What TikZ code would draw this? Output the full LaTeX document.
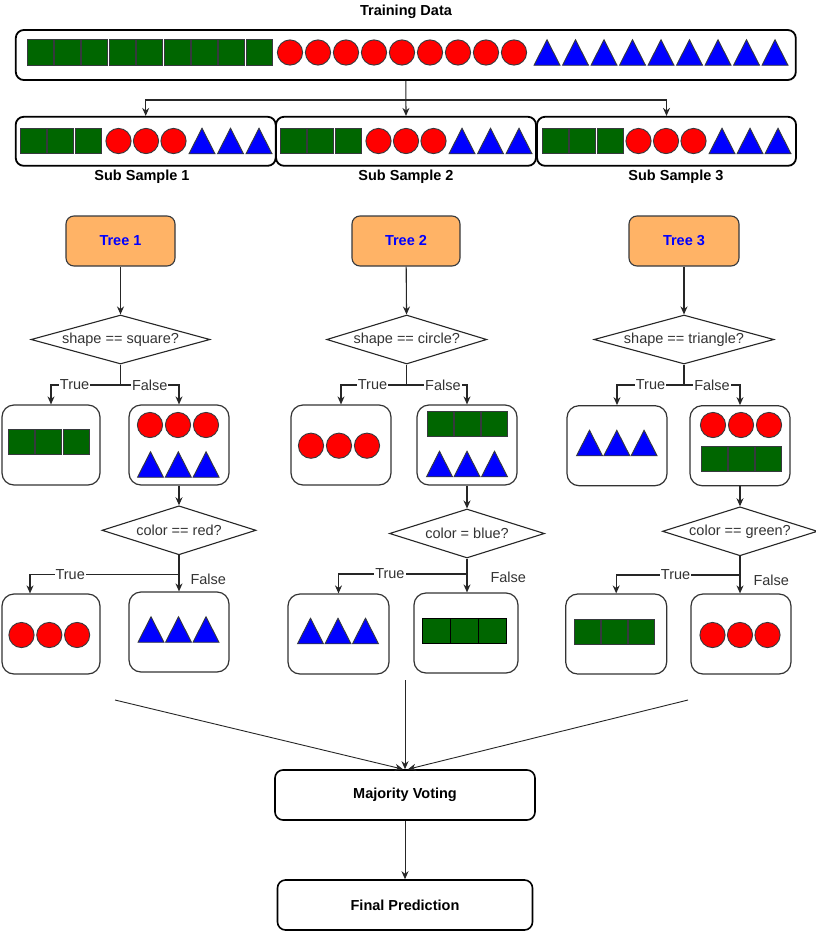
\documentclass[tikz,border=0pt]{standalone}
\usepackage{fontspec}
\setmainfont{Liberation Sans}
\usetikzlibrary{shapes.geometric,arrows.meta,calc}
\definecolor{sqgreen}{HTML}{006600}
\definecolor{stk}{HTML}{36393D}
\definecolor{treefill}{HTML}{FFB366}
\definecolor{txt}{HTML}{333333}
\definecolor{tblue}{HTML}{0000FF}
\newcommand\shaperow[5]{\foreach \i in {1,...,#5} \pic at ({#2+(\i-1)*#3},#4) {#1};}
\tikzset{
  fnt/.style={font=\fontsize{14.5}{17}\selectfont},
  bold/.style={font=\fontsize{14.5}{17}\selectfont\bfseries},
  bigbox/.style={draw=black, rounded corners=8pt, line width=1.8pt, inner sep=0pt},
  leaf/.style={draw=black!80, rounded corners=12pt, line width=1.2pt, inner sep=0pt, minimum height=80pt},
  treebox/.style={draw=stk, fill=treefill, rounded corners=8pt, line width=1.1pt, bold, text=tblue, minimum height=50pt, inner sep=0pt},
  dec/.style={diamond, draw=black!85, line width=1.1pt, inner sep=0pt, minimum height=49pt},
  dectxt/.style={fnt, text=txt},
  finbox/.style={draw=black, rounded corners=8pt, line width=1.6pt, bold, minimum height=50pt, inner sep=0pt},
  arr/.style={draw=black!85, line width=1.1pt, -{Stealth[length=8pt,width=7pt]}},
  thinarr/.style={draw=black!85, line width=0.9pt, -{Stealth[length=8pt,width=7pt]}},
  plain/.style={draw=black!85, line width=1.1pt},
  lbl/.style={fnt, text=txt, fill=white, inner sep=1pt},
  sidelbl/.style={fnt, text=txt, inner sep=0pt, anchor=west},
  sqshape/.style={fill=sqgreen, draw=stk, line width=0.9pt},
  cishape/.style={fill=red, draw=stk, line width=0.9pt},
  trshape/.style={fill=tblue, draw=stk, line width=0.9pt},
  gsq/.pic={\draw[sqshape] (-13,-12.75) rectangle (13,12.75);},
  gsqw/.pic={\draw[sqshape, draw=black] (-14,-12.5) rectangle (14,12.5);},
  rci/.pic={\draw[cishape] (0,0) circle[radius=12.6pt];},
  btr/.pic={\draw[trshape] (-13,12.75) -- (0,-12.75) -- (13,12.75) -- cycle;},
}
\begin{document}
\begin{tikzpicture}[x=1pt,y=-1pt]
\useasboundingbox (0,0) rectangle (816,932);
\fill[white] (0,0) rectangle (816,932);

% Training data
\node[bold] (title) at (406,11.5) {Training Data};
\node[bigbox, minimum width=780pt, minimum height=50pt] (train) at (405.8,55) {};
\shaperow{gsq}{40}{27.4}{52.5}{9}
\shaperow{rci}{290}{28}{52.5}{9}
\shaperow{btr}{547}{28.5}{52.5}{9}

% Sub samples
\node[bigbox, minimum width=260pt, minimum height=49pt] (s1) at (145.7,141.3) {};
\node[bigbox, minimum width=260pt, minimum height=49pt] (s2) at (406,141.3) {};
\node[bigbox, minimum width=259pt, minimum height=49pt] (s3) at (666.5,141.3) {};
\shaperow{gsq}{33}{27.5}{141}{3}
\shaperow{rci}{118.5}{27.5}{141}{3}
\shaperow{btr}{202}{28.5}{141}{3}
\shaperow{gsq}{293}{27.5}{141}{3}
\shaperow{rci}{378.5}{27.5}{141}{3}
\shaperow{btr}{462}{28.5}{141}{3}
\shaperow{gsq}{555}{27.5}{141}{3}
\shaperow{rci}{638.5}{27.5}{141}{3}
\shaperow{btr}{722}{28}{141}{3}
\node[bold] (s1l) at (142,177) {Sub Sample 1};
\node[bold] (s2l) at (406,177) {Sub Sample 2};
\node[bold] (s3l) at (676,177) {Sub Sample 3};

\coordinate (split) at (406,100);
\draw[arr] (train.south) -- (s2.north);
\draw[arr] (split) -| (s1.north);
\draw[arr] (split) -| (s3.north);

% Trees
\node[treebox, minimum width=109pt] (tr1) at (120.5,241) {Tree 1};
\node[treebox, minimum width=108pt] (tr2) at (406,241) {Tree 2};
\node[treebox, minimum width=110pt] (tr3) at (684,241) {Tree 3};

% First decisions
\node[dec, minimum width=179pt, label={[dectxt]center:shape == square?}] (d1) at (120.5,339.5) {};
\node[dec, minimum width=160pt, label={[dectxt]center:shape == circle?}] (d2) at (406.7,339.5) {};
\node[dec, minimum width=180pt, label={[dectxt]center:shape == triangle?}] (d3) at (684,339.5) {};
\draw[arr] (tr1) -- (d1);
\draw[arr] (tr2) -- (d2);
\draw[arr] (tr3) -- (d3);

% Level 1 boxes
\node[leaf, minimum width=98pt] (a1) at (51,445) {};
\node[leaf, minimum width=100pt] (b1) at (179,445) {};
\node[leaf, minimum width=100pt] (a2) at (341,445) {};
\node[leaf, minimum width=100pt] (b2) at (467,445) {};
\node[leaf, minimum width=100pt] (a3) at (617,445.7) {};
\node[leaf, minimum width=100pt] (b3) at (740,445.7) {};

\shaperow{gsq}{21.5}{27.3}{442}{3}
\shaperow{rci}{150}{28}{425}{3}
\shaperow{btr}{150.5}{27.8}{464.5}{3}
\shaperow{rci}{311}{28}{445.7}{3}
\shaperow{gsq}{440}{27.2}{424}{3}
\shaperow{btr}{439.5}{27.5}{464}{3}
\shaperow{btr}{589.5}{27.3}{443}{3}
\shaperow{rci}{713}{28}{425}{3}
\shaperow{gsq}{714.5}{27}{458.7}{3}

\coordinate (j1) at (120.5,385);
\coordinate (j2) at (406.7,385);
\coordinate (j3) at (684,385);
\draw[plain] (d1.south) -- (j1);
\draw[plain] (d2.south) -- (j2);
\draw[plain] (d3.south) -- (j3);
\draw[arr] (j1) -| node[lbl, pos=0.33] {True} (a1.north);
\draw[arr] (j1) -| node[lbl, pos=0.25] {False} (b1.north);
\draw[arr] (j2) -| node[lbl, pos=0.26] {True} (a2.north);
\draw[arr] (j2) -| node[lbl, pos=0.3] {False} (b2.north);
\draw[arr] (j3) -| node[lbl, pos=0.25] {True} (a3.north);
\draw[arr] (j3) -| node[lbl, pos=0.25] {False} (b3.north);

% Second decisions
\node[dec, minimum width=154pt, label={[dectxt]center:color == red?}] (e1) at (179,530.3) {};
\node[dec, minimum width=155pt, label={[dectxt]center:color = blue?}] (e2) at (467,533.5) {};
\node[dec, minimum width=155pt, label={[dectxt]center:color == green?}] (e3) at (740,531.3) {};
\draw[arr] (b1) -- (e1);
\draw[arr] (b2) -- (e2);
\draw[arr] (b3) -- (e3);

% Level 2 boxes
\node[leaf, minimum width=98pt] (c1) at (51,634) {};
\node[leaf, minimum width=100pt] (f1) at (179,632) {};
\node[leaf, minimum width=101pt] (c2) at (338.5,634) {};
\node[leaf, minimum width=104pt] (f2) at (466,633) {};
\node[leaf, minimum width=101pt] (c3) at (616.2,634) {};
\node[leaf, minimum width=100pt] (f3) at (741,634) {};

\shaperow{rci}{21.5}{27.8}{635}{3}
\shaperow{btr}{151}{27.5}{629.5}{3}
\shaperow{btr}{310.5}{27.5}{631}{3}
\shaperow{gsqw}{436}{28}{630.5}{3}
\shaperow{gsq}{587.5}{26.8}{632}{3}
\shaperow{rci}{712.5}{27.5}{635}{3}

\coordinate (k1) at (179,574.3);
\coordinate (k2) at (467,574);
\coordinate (k3) at (740,575);
\draw[plain] (e1.south) -- (k1);
\draw[plain] (e2.south) -- (k2);
\draw[plain] (e3.south) -- (k3);
\draw[arr] (k1) -| node[lbl, pos=0.365] {True} ([xshift=-21pt]c1.north);
\draw[arr] (k1) -- node[sidelbl, pos=0.3, xshift=11pt] {False} (k1 |- f1.north);
\draw[arr] (k2) -| node[lbl, pos=0.3] {True} (c2.north);
\draw[arr] (k2) -- node[sidelbl, pos=0.2, xshift=23pt] {False} (k2 |- f2.north);
\draw[arr] (k3) -| node[lbl, pos=0.26] {True} (c3.north);
\draw[arr] (k3) -- node[sidelbl, pos=0.3, xshift=13pt] {False} (k3 |- f3.north);

% Voting
\node[finbox, minimum width=260pt] (mv) at (405,795) {Majority Voting};
\node[finbox, minimum width=255pt] (fp) at (405,905) {Final Prediction};
\coordinate (p1) at (115,700);
\coordinate (p2) at (405,680);
\coordinate (p3) at (688,700);
\draw[thinarr] (p1) -- ([xshift=-2pt]mv.north);
\draw[thinarr] (p2) -- (mv.north);
\draw[thinarr] (p3) -- ([xshift=3pt]mv.north);
\draw[thinarr] (mv) -- (fp);
\end{tikzpicture}
\end{document}
